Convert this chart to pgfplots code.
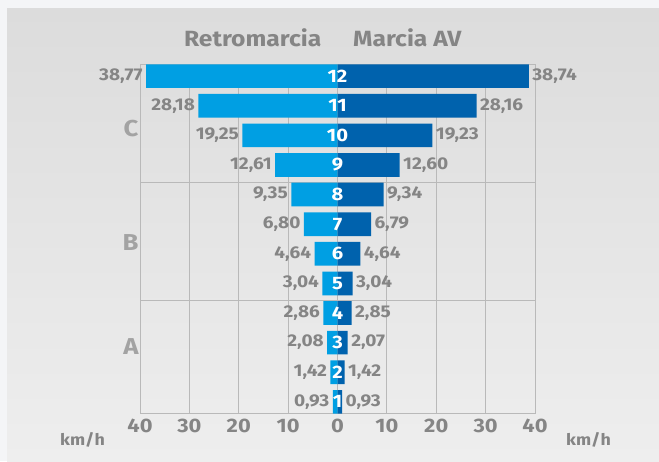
\documentclass[border=0pt]{standalone}
\usepackage{pgfplots}
\pgfplotsset{compat=1.18}
\usepackage{pgfplotstable}
\usepackage{fontspec}
\setmainfont{Fira Sans}[FakeStretch=1.12]
\definecolor{lblue}{HTML}{009FE3}
\definecolor{dblue}{HTML}{0062AD}
\definecolor{txt}{HTML}{858585}
\definecolor{lettc}{HTML}{A3A3A3}
\definecolor{gridc}{HTML}{B9B9B9}
\definecolor{bgout}{HTML}{F4F5F7}
\definecolor{paneltop}{HTML}{DCDCDC}
\definecolor{panelbot}{HTML}{EEEEEE}

\pgfplotstableread{
y left right ll rl
1 0.93 0.93 0,93 0,93
2 1.42 1.42 1,42 1,42
3 2.08 2.07 2,08 2,07
4 2.86 2.85 2,86 2,85
5 3.04 3.04 3,04 3,04
6 4.64 4.64 4,64 4,64
7 6.80 6.79 6,80 6,79
8 9.35 9.34 9,35 9,34
9 12.61 12.60 12,61 12,60
10 19.25 19.23 19,25 19,23
11 28.18 28.16 28,18 28,16
12 38.77 38.74 38,77 38,74
}\data

\begin{document}
\begin{tikzpicture}[x=1pt,y=1pt]
\useasboundingbox (0,0) rectangle (659,461);
\fill[bgout] (0,0) rectangle (659,461);
\shade[top color=paneltop, bottom color=panelbot] (7,0) rectangle (659,452);

\begin{axis}[
  at={(140pt,47.3pt)}, anchor=south west,
  width=395pt, height=349.4pt, scale only axis,
  xbar, bar width=0.8,
  xmin=-40, xmax=40, ymin=0.6, ymax=12.4,
  xtick={-40,-30,-20,-10,0,10,20,30,40},
  xticklabels={40,30,20,10,0,10,20,30,40},
  xmajorgrids,
  ytick={2.87,6.37,10.24},
  yticklabels={A,B,C},
  extra y ticks={4.41,8.42},
  extra y tick labels={},
  extra y tick style={ymajorgrids=true},
  major tick length=0pt,
  grid style={gridc, line width=0.8pt},
  axis line style={gridc, line width=0.8pt},
  xticklabel style={font=\fontsize{19.5}{23}\selectfont\bfseries, text=txt, yshift=-1.5pt},
  yticklabel style={font=\fontsize{23}{27}\selectfont\bfseries, text=lettc, xshift=2pt},
  /pgf/number format/assume math mode=true,
  clip=false,
]
\addplot[bar shift=0pt, fill=lblue, draw=none,
  nodes near coords, point meta=explicit symbolic,
  every node near coord/.append style={anchor=east, text=txt, font=\fontsize{17}{20}\selectfont\bfseries}]
  table[x expr=-\thisrow{left}, y=y, meta=ll] {\data};
\addplot[bar shift=0pt, fill=dblue, draw=none,
  nodes near coords, point meta=explicit symbolic,
  every node near coord/.append style={anchor=west, text=txt, font=\fontsize{17}{20}\selectfont\bfseries}]
  table[x=right, y=y, meta=rl] {\data};
\addplot[bar shift=0pt, fill=none, draw=none,
  nodes near coords, point meta=explicit symbolic, nodes near coords align={center},
  every node near coord/.append style={anchor=center, text=white, font=\fontsize{18}{21}\selectfont\bfseries}]
  table[x expr=0, y=y, meta=y] {\data};
\end{axis}

\node[anchor=base east, text=txt, font=\fontsize{22}{26}\selectfont\bfseries, inner sep=0pt] at (321.5,414) {Retromarcia};
\node[anchor=base west, text=txt, font=\fontsize{22}{26}\selectfont\bfseries, inner sep=0pt] at (353,414) {Marcia AV};
\node[anchor=base, text=txt, font=\fontsize{16}{19}\selectfont\bfseries, inner sep=0pt] at (82.5,16) {km/h};
\node[anchor=base, text=txt, font=\fontsize{16}{19}\selectfont\bfseries, inner sep=0pt] at (588.5,16) {km/h};
\end{tikzpicture}
\end{document}
